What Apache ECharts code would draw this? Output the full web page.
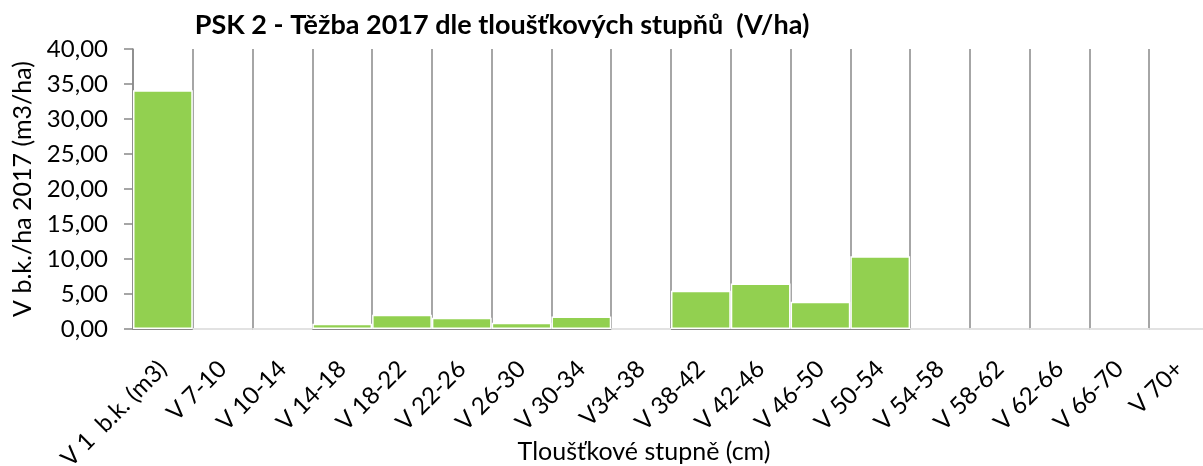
<!DOCTYPE html>
<html>
<head>
<meta charset="utf-8">
<script src="https://cdn.jsdelivr.net/npm/echarts@6/dist/echarts.min.js"></script>
<style>
html,body{margin:0;padding:0;background:#fff;}
#c{width:1203px;height:466px;}
</style>
</head>
<body>
<div id="c"></div>
<script>
const titleText = 'PSK 2 - Těžba 2017 dle tloušťkových stupňů  (V/ha)';
const xAxisName = 'Tloušťkové stupně (cm)';
const yAxisName = 'V b.k./ha 2017 (m3/ha)';
const categories = ['V 1  b.k. (m3)', 'V 7-10', 'V 10-14', 'V 14-18', 'V 18-22', 'V 22-26', 'V 26-30', 'V 30-34', 'V34-38', 'V 38-42', 'V 42-46', 'V 46-50', 'V 50-54', 'V 54-58', 'V 58-62', 'V 62-66', 'V 66-70', 'V 70+'];
const values = [34.1, 0, 0, 0.75, 2.05, 1.6, 0.9, 1.8, 0, 5.45, 6.5, 3.9, 10.4, 0, 0, 0, 0, 0];
const yMin = 0, yMax = 40, yStep = 5;

const FONT = 'Lato, "Open Sans", sans-serif';
const chart = echarts.init(document.getElementById('c'), null, {renderer: 'canvas'});
chart.setOption({
  animation: false,
  backgroundColor: '#ffffff',
  title: {
    text: titleText,
    left: 497, top: 7, textAlign: 'center',
    textStyle: {fontFamily: FONT, fontWeight: 'bold', fontSize: 27, color: '#000'}
  },
  grid: {left: 133, right: -6, top: 49, bottom: 137, containLabel: false, outerBoundsMode: 'none'},
  xAxis: {
    type: 'category',
    data: categories,
    boundaryGap: true,
    name: xAxisName,
    nameLocation: 'middle',
    nameGap: 110,
    nameMoveOverlap: false,
    nameTextStyle: {fontFamily: FONT, fontSize: 25, color: '#000', padding: [0, 54, 0, 0]},
    axisLine: {show: true, lineStyle: {color: '#898989', width: 2}},
    axisTick: {show: false},
    splitLine: {show: true, lineStyle: {color: '#898989', width: 1.5}},
    axisLabel: {
      interval: 0, rotate: 45, margin: 36,
      fontFamily: FONT, fontSize: 24, color: '#000'
    }
  },
  yAxis: {
    type: 'value',
    min: yMin, max: yMax, interval: yStep,
    name: yAxisName,
    nameLocation: 'middle',
    nameGap: 98,
    nameMoveOverlap: false,
    nameTextStyle: {fontFamily: FONT, fontSize: 25, color: '#000'},
    axisLine: {show: true, lineStyle: {color: '#898989', width: 1.5}},
    axisTick: {show: true, length: 9, lineStyle: {color: '#898989', width: 1.5}},
    splitLine: {show: false},
    axisLabel: {
      margin: 25,
      fontFamily: FONT, fontSize: 24, color: '#000',
      formatter: v => v.toFixed(2).replace('.', ',')
    }
  },
  series: [{
    type: 'bar',
    data: values,
    barCategoryGap: '0%',
    itemStyle: {color: '#92D050', borderColor: '#ffffff', borderWidth: 1.5}
  }]
});
</script>
</body>
</html>
